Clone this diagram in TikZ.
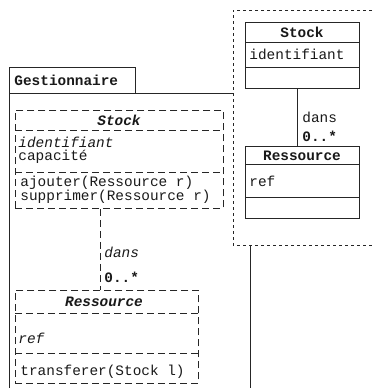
\documentclass[tikz,border=0pt]{standalone}
\usepackage{fontspec}
\setmonofont{Liberation Mono}
\usetikzlibrary{calc}
\begin{document}
\begin{tikzpicture}[x=1pt,y=-1pt,
  line width=0.9pt, draw=black!85,
  every node/.style={font=\ttfamily\fontsize{14.4}{15}\selectfont, inner sep=0pt, text=black!90},
  ldash/.style={dash pattern=on 7pt off 4pt},
  sdash/.style={dash pattern=on 3pt off 3pt},
  txt/.style={anchor=west},
  ttl/.style={font=\ttfamily\bfseries\fontsize{14.4}{15}\selectfont},
  ittl/.style={font=\ttfamily\bfseries\itshape\fontsize{14.4}{15}\selectfont},
  itx/.style={anchor=west, font=\ttfamily\itshape\fontsize{14.4}{15}\selectfont},
  classbox/.style={draw, rectangle, anchor=north west, minimum width=#1},
  mult/.style={anchor=west, font=\ttfamily\bfseries\fontsize{14.4}{15}\selectfont}
]
\useasboundingbox (0,0) rectangle (374,388);

% package Gestionnaire: tab and open body
\node[classbox=126, minimum height=26] (gtab) at (9,67) {};
\node[ttl, anchor=west] (gname) at (14,80) {Gestionnaire};
\draw (9,392) -- (9,93) -- (250,93) -- (250,392);

% dashed classes inside Gestionnaire
\node[classbox=208, minimum height=98, ldash] (lstock) at (15,110) {};
\draw[ldash] ($(lstock.north west)+(0,20)$) -- ($(lstock.north east)+(0,20)$);
\draw[ldash] ($(lstock.north west)+(0,62)$) -- ($(lstock.north east)+(0,62)$);
\node[ittl] (lstockname) at (119,120) {Stock};
\node[itx] (lid) at (18,142) {identifiant};
\node[txt] (lcap) at (18,157) {capacité};
\node[txt] (ladd) at (20,183) {ajouter(Ressource r)};
\node[txt] (ldel) at (20,197) {supprimer(Ressource r)};

\node[classbox=183, minimum height=93, ldash] (lres) at (15,290) {};
\draw[ldash] ($(lres.north west)+(0,23)$) -- ($(lres.north east)+(0,23)$);
\draw[ldash] ($(lres.north west)+(0,63)$) -- ($(lres.north east)+(0,63)$);
\node[ittl] (lresname) at (104,302) {Ressource};
\node[itx] (lref) at (18,338) {ref};
\node[txt] (ltrans) at (20,372) {transferer(Stock l)};

\coordinate (lx) at (100,0);
\draw[ldash] (lstock.south -| lx) -- (lres.north -| lx);
\node[itx] (ldans) at (104,252) {dans};
\node[mult] (lmult) at (104,277) {0..*};

% dashed context package on top
\draw[sdash, fill=white] (378,10) -- (233,10) -- (233,245) -- (378,245);

% plain classes inside the context
\node[classbox=114, minimum height=66, fill=white] (rstock) at (245,22) {};
\draw ($(rstock.north west)+(0,20)$) -- ($(rstock.north east)+(0,20)$);
\draw ($(rstock.north west)+(0,45)$) -- ($(rstock.north east)+(0,45)$);
\node[ttl] (rstockname) at (302,32) {Stock};
\node[txt] (rid) at (249,54) {identifiant};

\node[classbox=114, minimum height=72, fill=white] (rres) at (245,146) {};
\draw ($(rres.north west)+(0,18.5)$) -- ($(rres.north east)+(0,18.5)$);
\draw ($(rres.north west)+(0,51.5)$) -- ($(rres.north east)+(0,51.5)$);
\node[ttl] (rresname) at (302,156) {Ressource};
\node[txt] (rref) at (249,181) {ref};

\coordinate (rx) at (297,0);
\draw (rstock.south -| rx) -- (rres.north -| rx);
\node[txt] (rdans) at (302,117) {dans};
\node[mult] (rmult) at (302,136) {0..*};
\end{tikzpicture}
\end{document}
